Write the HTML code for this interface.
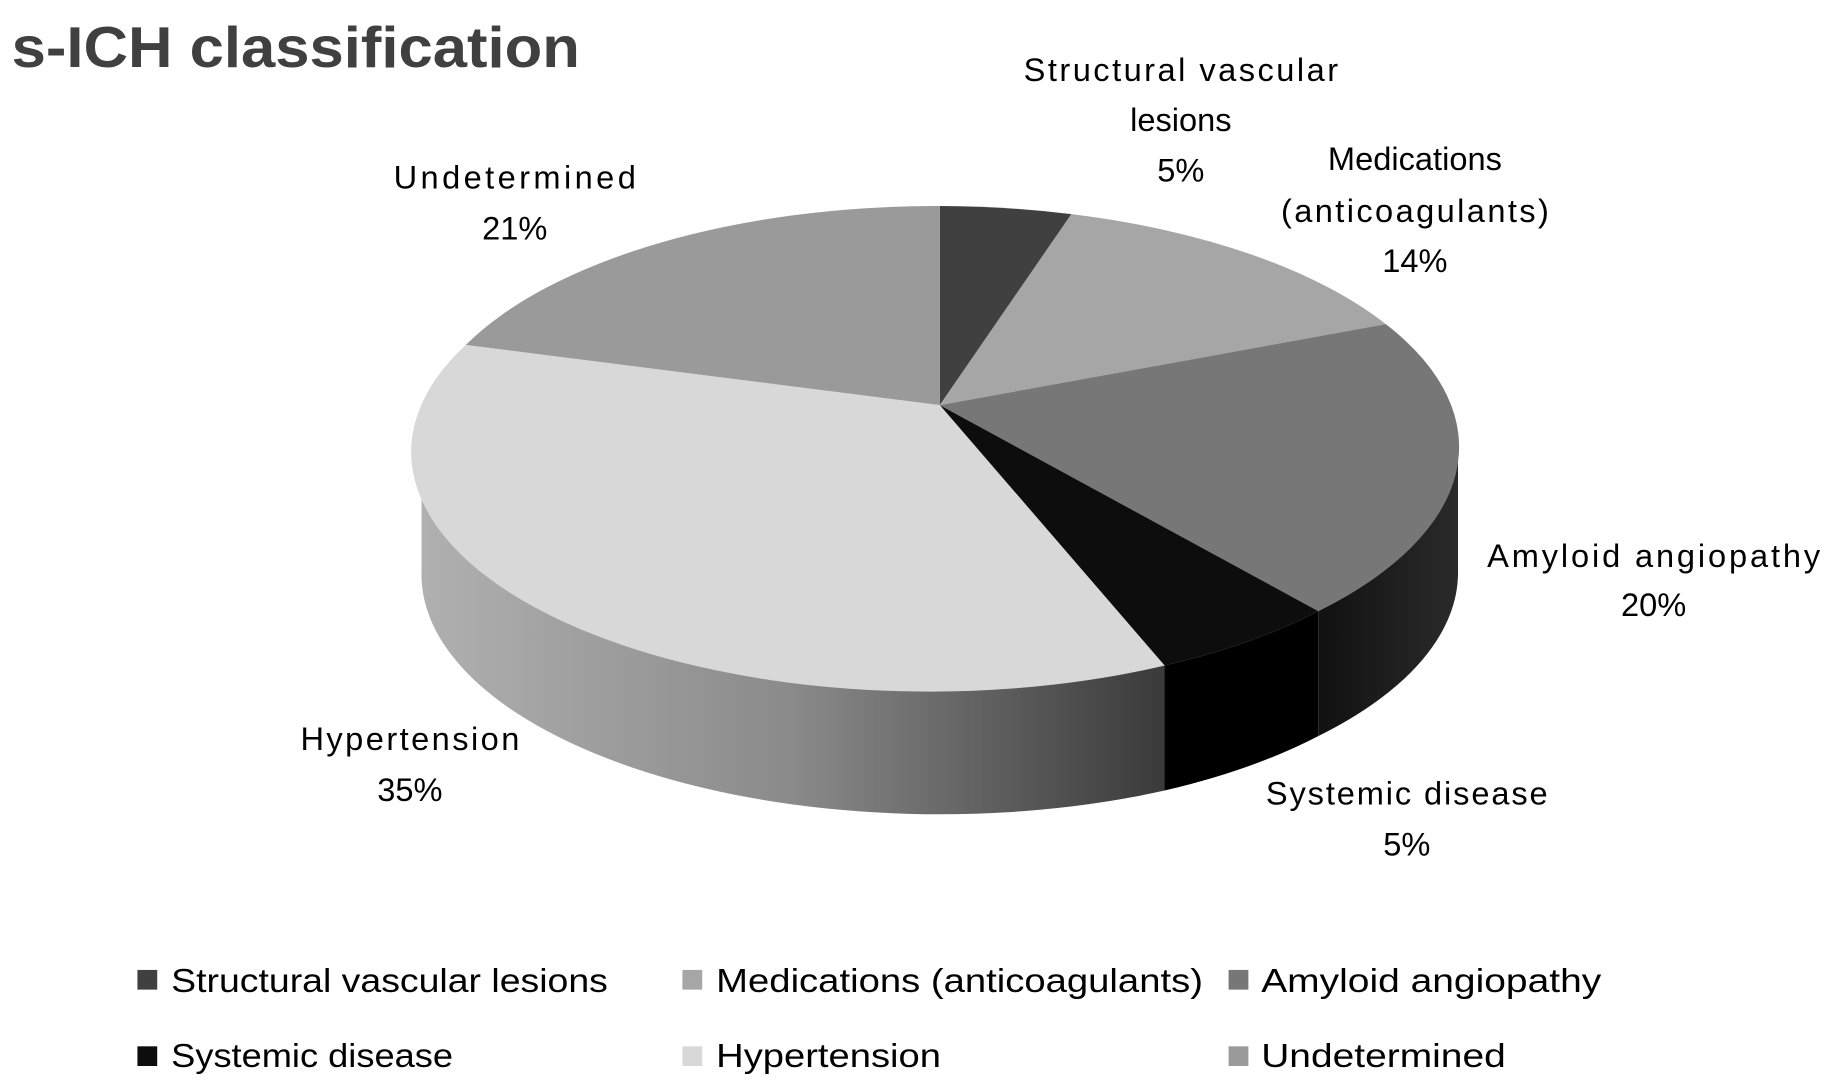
<!DOCTYPE html>
<html><head><meta charset="utf-8"><style>
html,body{margin:0;padding:0;background:#fff;}
svg{display:block;}
text{font-family:"Liberation Sans",sans-serif;fill:#000;}
</style></head><body>
<svg width="1826" height="1088" viewBox="0 0 1568 940" preserveAspectRatio="none" xmlns="http://www.w3.org/2000/svg">
<defs>
<linearGradient id="hs" x1="0" x2="1" y1="0" y2="0">
<stop offset="0" stop-color="#b0b0b0"/><stop offset="0.5" stop-color="#8a8a8a"/><stop offset="1" stop-color="#3a3a3a"/>
</linearGradient>
<linearGradient id="as" x1="0" x2="1"><stop offset="0" stop-color="#111"/><stop offset="1" stop-color="#2a2a2a"/></linearGradient>
</defs>
<text x="10" y="58" font-size="50" font-weight="bold" style="fill:#404040" textLength="488" lengthAdjust="spacingAndGlyphs">s-ICH classification</text>
<path d="M362,385 A445,207 0 0 0 1000,575 L1000,683 A445,207 0 0 1 362,493 Z" fill="url(#hs)"/>
<path d="M1000,575 A445,207 0 0 0 1132,528 L1132,636 A445,207 0 0 1 1000,683 Z" fill="#000"/>
<path d="M1132,528 A445,207 0 0 0 1252,385 L1252,493 A445,207 0 0 1 1132,636 Z" fill="url(#as)"/>
<path d="M807,350 L807,178 A445,207 0 0 1 920,185 Z" fill="#404040"/>
<path d="M807,350 L920,185 A445,207 0 0 1 1190,280 Z" fill="#a6a6a6"/>
<path d="M807,350 L1190,280 A445,207 0 0 1 1132,528 Z" fill="#777"/>
<path d="M807,350 L1132,528 A445,207 0 0 1 1000,575 Z" fill="#0d0d0d"/>
<path d="M807,350 L1000,575 A445,207 0 0 1 400,298 Z" fill="#d8d8d8"/>
<path d="M807,350 L400,298 A445,207 0 0 1 807,178 Z" fill="#9a9a9a"/>
<g font-size="28" text-anchor="middle" lengthAdjust="spacingAndGlyphs">
<text x="1014" y="70" textLength="270">Structural vascular</text>
<text x="1014" y="113">lesions</text>
<text x="1014" y="157">5%</text>
<text x="1215" y="147">Medications</text>
<text x="1215" y="192" textLength="230">(anticoagulants)</text>
<text x="1215" y="235">14%</text>
<text x="442" y="163" textLength="208">Undetermined</text>
<text x="442" y="207">21%</text>
<text x="1420" y="490" textLength="286">Amyloid  angiopathy</text>
<text x="1420" y="532">20%</text>
<text x="352" y="648" textLength="188">Hypertension</text>
<text x="352" y="692">35%</text>
<text x="1208" y="695" textLength="242">Systemic disease</text>
<text x="1208" y="739">5%</text>
</g>
<g font-size="29">
<rect x="118" y="838" width="17" height="17" fill="#404040"/><text x="147" y="857" textLength="375" lengthAdjust="spacingAndGlyphs">Structural vascular lesions</text>
<rect x="586" y="838" width="17" height="17" fill="#a6a6a6"/><text x="615" y="857" textLength="418" lengthAdjust="spacingAndGlyphs">Medications (anticoagulants)</text>
<rect x="1055" y="838" width="17" height="17" fill="#777"/><text x="1083" y="857" textLength="292" lengthAdjust="spacingAndGlyphs">Amyloid  angiopathy</text>
<rect x="118" y="904" width="17" height="17" fill="#0d0d0d"/><text x="147" y="922" textLength="242" lengthAdjust="spacingAndGlyphs">Systemic disease</text>
<rect x="586" y="904" width="17" height="17" fill="#d8d8d8"/><text x="615" y="922" textLength="193" lengthAdjust="spacingAndGlyphs">Hypertension</text>
<rect x="1055" y="904" width="17" height="17" fill="#9a9a9a"/><text x="1083" y="922" textLength="210" lengthAdjust="spacingAndGlyphs">Undetermined</text>
</g>
</svg>
</body></html>
